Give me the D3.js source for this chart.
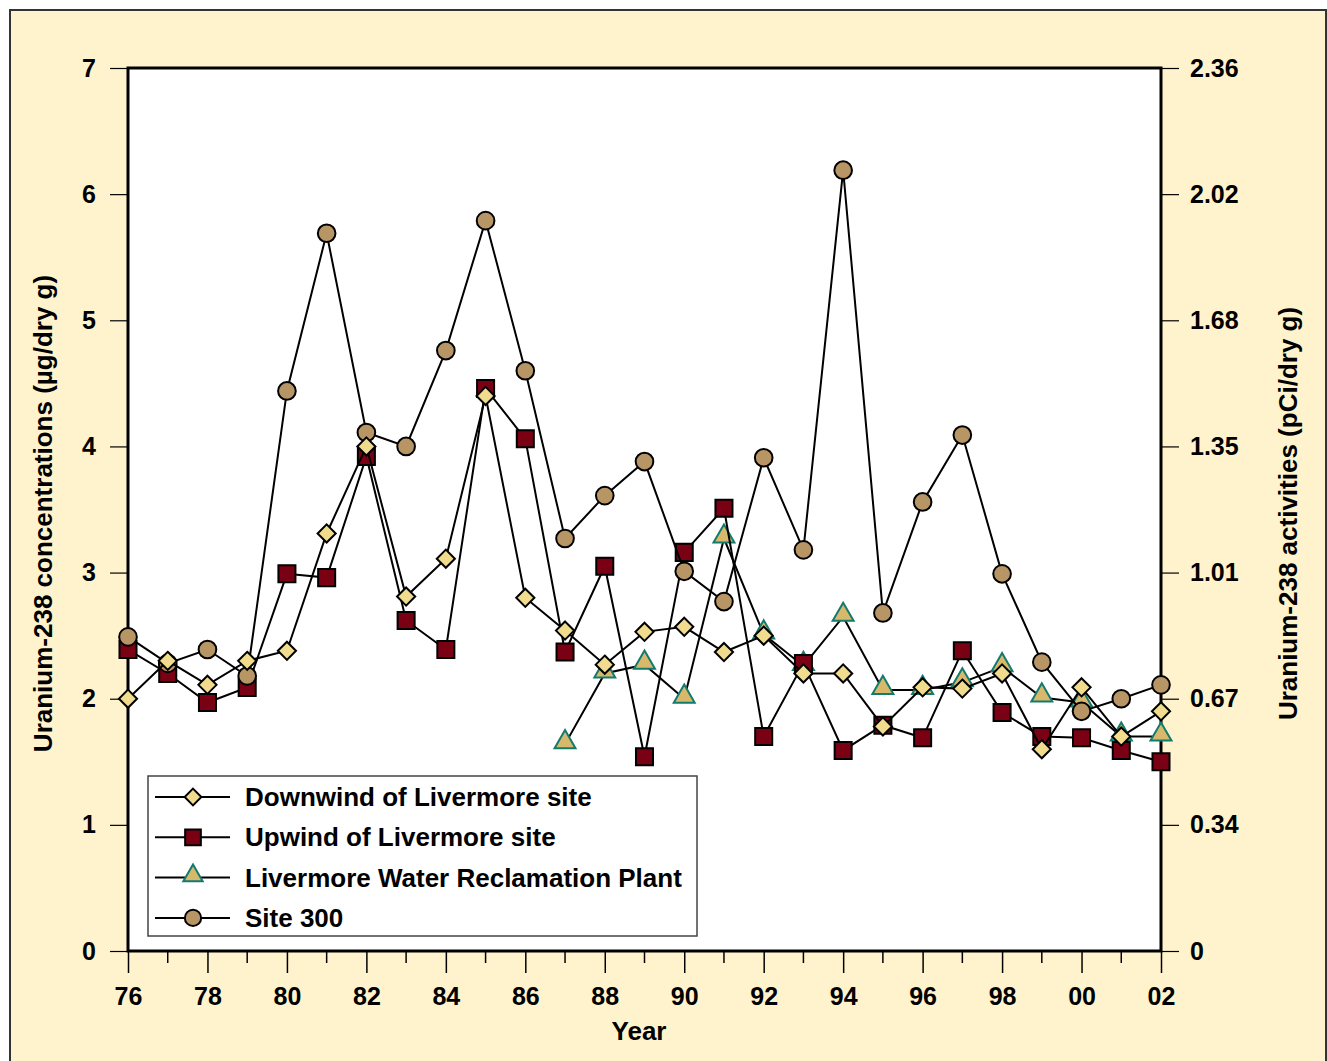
<!DOCTYPE html>
<html lang="en">
  <head>
    <meta charset="utf-8">
    <title>Uranium-238 in soil</title>
    <script src="https://d3js.org/d3.v7.min.js"></script>
    <style>
      body { margin: 0; background: #fff; }
      text { font-family: "Liberation Sans", Arial, sans-serif; font-weight: bold; }
    </style>
  </head>
  <body>
    <script>
      // years 1976..2002
      var years = d3.range(1976, 2003);
      var downwind = [2.00, 2.30, 2.11, 2.30, 2.38, 3.31, 4.00, 2.81, 3.11, 4.40, 2.80, 2.54, 2.27, 2.53,
                      2.57, 2.37, 2.50, 2.20, 2.20, 1.78, 2.09, 2.08, 2.20, 1.60, 2.09, 1.70, 1.90];
      var upwind = [2.39, 2.20, 1.97, 2.09, 2.99, 2.96, 3.92, 2.62, 2.39, 4.46, 4.06, 2.37, 3.05, 1.54,
                    3.16, 3.51, 1.70, 2.28, 1.59, 1.79, 1.69, 2.38, 1.89, 1.70, 1.69, 1.59, 1.50];
      // plant starts in 1987
      var lwrpYears = d3.range(1987, 2003);
      var lwrp = [1.64, 2.20, 2.27, 2.00, 3.27, 2.51, 2.26, 2.65, 2.07, 2.07, 2.13, 2.25, 2.01, 1.97, 1.70, 1.70];
      var site300 = [2.49, 2.28, 2.39, 2.18, 4.44, 5.69, 4.11, 4.00, 4.76, 5.79, 4.60, 3.27, 3.61, 3.88,
                     3.01, 2.77, 3.91, 3.18, 6.19, 2.68, 3.56, 4.09, 2.99, 2.29, 1.90, 2.00, 2.11];
      var leftTicks = [0, 1, 2, 3, 4, 5, 6, 7];
      var rightLabels = ["0", "0.34", "0.67", "1.01", "1.35", "1.68", "2.02", "2.36"];

      var W = 1327, H = 1061;
      var m = {left: 128, right: 1161, top: 68, bottom: 951};

      var svg = d3.select("body").append("svg")
        .attr("width", W).attr("height", H);

      // page frame
      svg.append("rect")
        .attr("x", 10).attr("y", 10)
        .attr("width", 1316).attr("height", 1070)
        .attr("fill", "#fff3cd")
        .attr("stroke", "#333").attr("stroke-width", 2);

      var x = d3.scaleLinear().domain([1976, 2002]).range([m.left, m.right]);
      var y = d3.scaleLinear().domain([0, 7]).range([m.bottom, m.top]);

      svg.append("rect")
        .attr("x", m.left).attr("y", m.top)
        .attr("width", m.right - m.left).attr("height", m.bottom - m.top)
        .attr("fill", "#fff");

      // left axis
      var yAxisL = svg.append("g")
        .attr("transform", "translate(" + m.left + ",0)")
        .call(d3.axisLeft(y).tickValues(leftTicks).tickSize(18).tickPadding(14)
          .tickFormat(d3.format("d")));
      // right axis
      var yAxisR = svg.append("g")
        .attr("transform", "translate(" + m.right + ",0)")
        .call(d3.axisRight(y).tickValues(leftTicks).tickSize(18).tickPadding(11)
          .tickFormat(function(d, i){ return rightLabels[i]; }));
      // bottom axis: major every 2 years, minor each year
      var xAxis = svg.append("g")
        .attr("transform", "translate(0," + m.bottom + ")")
        .call(d3.axisBottom(x).tickValues(years.filter(function(d){ return d % 2 == 0; }))
          .tickSize(22).tickPadding(14)
          .tickFormat(function(d){ return String(d).slice(2); }));
      xAxis.selectAll(".minor")
        .data(years.filter(function(d){ return d % 2 == 1; }))
        .enter().append("line")
        .attr("class", "minor")
        .attr("x1", function(d){ return x(d); }).attr("x2", function(d){ return x(d); })
        .attr("y1", 0).attr("y2", 12)
        .attr("stroke", "#000").attr("stroke-width", 1.5);

      [yAxisL, yAxisR, xAxis].forEach(function(g){
        g.select(".domain").remove();
        g.selectAll(".tick line").attr("stroke", "#000").attr("stroke-width", 1.5);
        g.selectAll("text").attr("font-size", 25).attr("fill", "#000")
          .attr("font-family", "Liberation Sans, Arial, sans-serif").attr("font-weight", "bold");
      });
      yAxisL.selectAll(".tick line").attr("stroke-width", 1.2);
      yAxisR.selectAll(".tick line").attr("stroke-width", 1.2);

      // plot frame
      svg.append("rect")
        .attr("x", m.left).attr("y", m.top)
        .attr("width", m.right - m.left).attr("height", m.bottom - m.top)
        .attr("fill", "none").attr("stroke", "#000").attr("stroke-width", 3);

      // axis titles
      svg.append("text")
        .attr("transform", "translate(52," + ((m.top + m.bottom) / 2 + 4) + ") rotate(-90)")
        .attr("text-anchor", "middle").attr("font-size", 26)
        .text("Uranium-238 concentrations (\u00b5g/dry g)");
      svg.append("text")
        .attr("transform", "translate(1297," + ((m.top + m.bottom) / 2 + 4) + ") rotate(-90)")
        .attr("text-anchor", "middle").attr("font-size", 26)
        .text("Uranium-238 activities (pCi/dry g)");
      svg.append("text")
        .attr("x", 639).attr("y", 1040)
        .attr("text-anchor", "middle").attr("font-size", 26)
        .text("Year");

      // marker styles
      var styles = {
        diamond: {shape: d3.symbolDiamond2, size: 210, fill: "#f0dc8c", stroke: "#000"},
        square: {shape: d3.symbolSquare, size: 290, fill: "#7a0014", stroke: "#000"},
        triangle: {shape: d3.symbolTriangle, size: 190, fill: "#d8b96c", stroke: "#137a6e"},
        circle: {shape: d3.symbolCircle, size: 245, fill: "#b89565", stroke: "#000"}
      };
      function sym(s){
        return d3.symbol().type(s.shape).size(s.size)();
      }
      function drawSeries(xs, vals, st){
        var pts = xs.map(function(d, i){ return [d, vals[i]]; });
        var line = d3.line()
          .x(function(d){ return x(d[0]); })
          .y(function(d){ return y(d[1]); });
        svg.append("path").datum(pts)
          .attr("d", line).attr("fill", "none")
          .attr("stroke", "#000").attr("stroke-width", 2);
        svg.append("g").selectAll("path")
          .data(pts).enter().append("path")
          .attr("d", sym(st))
          .attr("transform", function(d){
            var t = "translate(" + x(d[0]) + "," + y(d[1]) + ")";
            return st.shape === d3.symbolTriangle ? t + " translate(0,-2)" : t;
          })
          .attr("fill", st.fill).attr("stroke", st.stroke).attr("stroke-width", 2);
      }

      drawSeries(lwrpYears, lwrp, styles.triangle);
      drawSeries(years, upwind, styles.square);
      drawSeries(years, site300, styles.circle);
      drawSeries(years, downwind, styles.diamond);

      // legend
      var legendNames = ["Downwind of Livermore site", "Upwind of Livermore site",
                         "Livermore Water Reclamation Plant", "Site 300"];
      var legendStyles = [styles.diamond, styles.square, styles.triangle, styles.circle];
      var lg = svg.append("g");
      lg.append("rect")
        .attr("x", 148).attr("y", 776).attr("width", 549).attr("height", 160)
        .attr("fill", "#fff").attr("stroke", "#444").attr("stroke-width", 1.5);
      legendNames.forEach(function(name, i){
        var cy = 797 + i * 40.3;
        lg.append("line")
          .attr("x1", 155).attr("x2", 230).attr("y1", cy).attr("y2", cy)
          .attr("stroke", "#000").attr("stroke-width", 2);
        var st = legendStyles[i];
        lg.append("path")
          .attr("d", d3.symbol().type(st.shape).size(st.size * 0.85)())
          .attr("transform", "translate(193," + (st.shape === d3.symbolTriangle ? cy - 2 : cy) + ")")
          .attr("fill", st.fill).attr("stroke", st.stroke).attr("stroke-width", 2);
        lg.append("text")
          .attr("x", 245).attr("y", cy + 9)
          .attr("font-size", 26)
          .text(name);
      });
    </script>
  </body>
</html>
